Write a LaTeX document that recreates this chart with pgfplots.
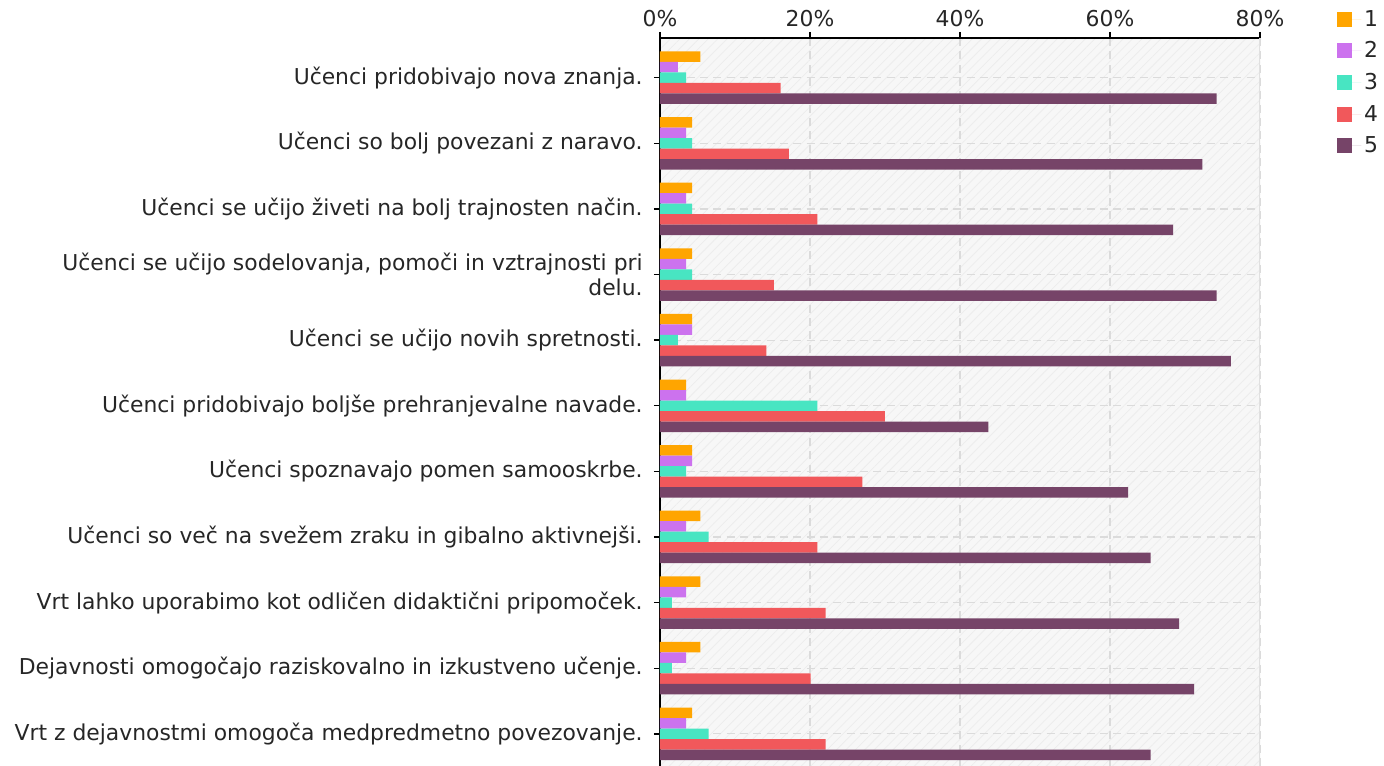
\documentclass[border=0pt]{standalone}
\usepackage{pgfplots}
\pgfplotsset{compat=1.18}
\usepackage{fontspec}
\setmainfont{DejaVu Sans}
\usetikzlibrary{patterns.meta}
\definecolor{cA}{HTML}{FFA500}
\definecolor{cB}{HTML}{CC72EE}
\definecolor{cC}{HTML}{48E5C2}
\definecolor{cD}{HTML}{F1585B}
\definecolor{cE}{HTML}{764468}
\newcommand{\lblfont}{\fontsize{16.4}{18.5}\selectfont}
\begin{document}
\begin{tikzpicture}
\path[use as bounding box] (-495pt,0pt) rectangle (543pt,574.5pt);
\begin{axis}[
  at={(0pt,0pt)}, anchor=south west,
  scale only axis, width=450pt, height=546pt,
  xbar, bar width=0.16,
  xmin=0, xmax=80, ymin=-0.49, ymax=10.605,
  axis x line*=top, axis y line*=left,
  axis line style={-, black, line width=1pt},
  xtick={0,20,40,60,80},
  xticklabels={0\%,20\%,40\%,60\%,80\%},
  ytick={0,1,2,3,4,5,6,7,8,9,10},
  yticklabels={
    Vrt z dejavnostmi omogoča medpredmetno povezovanje.,
    Dejavnosti omogočajo raziskovalno in izkustveno učenje.,
    Vrt lahko uporabimo kot odličen didaktični pripomoček.,
    Učenci so več na svežem zraku in gibalno aktivnejši.,
    Učenci spoznavajo pomen samooskrbe.,
    Učenci pridobivajo boljše prehranjevalne navade.,
    Učenci se učijo novih spretnosti.,
    {Učenci se učijo sodelovanja, pomoči in vztrajnosti pri\\delu.},
    Učenci se učijo živeti na bolj trajnosten način.,
    Učenci so bolj povezani z naravo.,
    Učenci pridobivajo nova znanja.},
  yticklabel style={align=right, font=\lblfont, text=black!85, xshift=-5pt},
  xticklabel style={font=\lblfont, text=black!85},
  tick align=outside, major tick length=4.5pt,
  tick style={black, line width=1pt},
  xmajorgrids, ymajorgrids,
  major grid style={black!14, line width=0.9pt, dash pattern=on 6pt off 4pt},
  axis background/.style={fill=black!3,
    postaction={pattern={Lines[angle=45,distance=5pt,line width=0.6pt]}, pattern color=black!7}},
  legend style={draw=none, fill=none, at={(axis description cs:1.122,1.046)}, anchor=north west,
    font=\lblfont, row sep=6.2pt, text=black!85},
  legend cell align=left,
  legend image code/.code={\fill[#1] (0pt,-5.6pt) rectangle (11.25pt,5.6pt); \path (0pt,0pt) -- (18pt,0pt);},
]
\addplot[fill=cA, draw=none, bar shift=0.32] coordinates {
 (4.3,0) (5.4,1) (5.4,2) (5.4,3) (4.3,4) (3.5,5) (4.3,6) (4.3,7) (4.3,8) (4.3,9) (5.4,10)};
\addplot[fill=cB, draw=none, bar shift=0.16] coordinates {
 (3.5,0) (3.5,1) (3.5,2) (3.5,3) (4.3,4) (3.5,5) (4.3,6) (3.5,7) (3.5,8) (3.5,9) (2.4,10)};
\addplot[fill=cC, draw=none, bar shift=0] coordinates {
 (6.5,0) (1.6,1) (1.6,2) (6.5,3) (3.5,4) (21.0,5) (2.4,6) (4.3,7) (4.3,8) (4.3,9) (3.5,10)};
\addplot[fill=cD, draw=none, bar shift=-0.16] coordinates {
 (22.1,0) (20.1,1) (22.1,2) (21.0,3) (27.0,4) (30.0,5) (14.2,6) (15.2,7) (21.0,8) (17.2,9) (16.1,10)};
\addplot[fill=cE, draw=none, bar shift=-0.32] coordinates {
 (65.4,0) (71.2,1) (69.2,2) (65.4,3) (62.4,4) (43.8,5) (76.1,6) (74.2,7) (68.4,8) (72.3,9) (74.2,10)};
\legend{1,2,3,4,5}
\draw[black!12, line width=0.8pt] (rel axis cs:1,0) -- (rel axis cs:1,1);
\end{axis}
\end{tikzpicture}
\end{document}
